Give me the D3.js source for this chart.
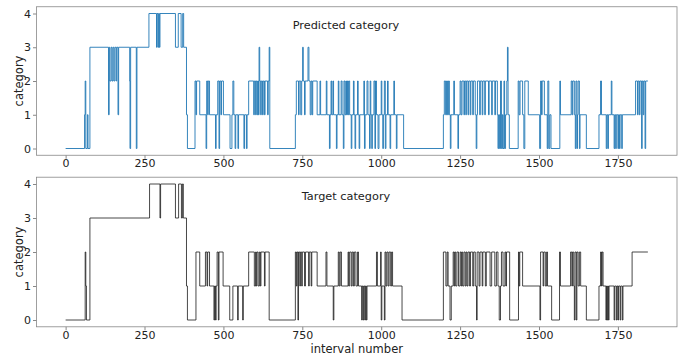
<!DOCTYPE html>
<html>
<head>
<meta charset="utf-8">
<script src="https://cdn.jsdelivr.net/npm/d3@7"></script>
<style>
  body { margin: 0; background: #fff; }
  svg { display: block; font-family: "DejaVu Sans", sans-serif; }
  .tick text { fill: #222; font-size: 11px; font-family: "DejaVu Sans", sans-serif; }
  .tick line { stroke: #888; }
  .domain { display: none; }
</style>
</head>
<body>
<div id="chart"></div>
<script>
// run-length step series: interval where a run starts, and its category
const predictedStart = [0,60,62,64,69,71,77,136,138,140,144,147,150,153,156,160,162,166,168,203,204,206,224,226,264,288,290,293,295,297,299,348,357,366,371,374,383,386,410,413,415,425,445,447,450,452,456,475,477,482,486,488,492,494,500,521,527,530,533,537,539,546,548,565,567,573,575,580,596,598,602,604,607,609,611,613,615,618,620,624,626,630,632,640,642,645,647,728,731,738,740,745,748,751,753,757,759,768,771,775,778,781,783,797,806,808,826,828,836,838,841,843,847,849,858,860,864,866,873,876,880,882,885,888,890,893,895,897,900,905,907,912,914,917,919,925,927,930,932,945,947,949,955,958,963,965,967,970,972,977,980,982,985,990,993,1000,1002,1005,1007,1010,1013,1015,1020,1022,1028,1030,1040,1042,1048,1050,1071,1197,1200,1204,1207,1210,1213,1216,1219,1221,1230,1232,1243,1245,1250,1253,1256,1262,1264,1268,1270,1275,1277,1282,1284,1290,1292,1298,1301,1303,1305,1312,1314,1320,1322,1328,1330,1340,1342,1350,1352,1360,1362,1368,1370,1372,1375,1378,1381,1384,1386,1389,1391,1394,1398,1400,1402,1406,1434,1437,1440,1448,1452,1455,1466,1502,1505,1508,1510,1517,1526,1528,1531,1534,1538,1566,1568,1602,1605,1607,1612,1615,1617,1620,1622,1624,1628,1630,1650,1690,1695,1698,1713,1715,1718,1720,1729,1731,1738,1740,1743,1745,1750,1752,1755,1757,1762,1764,1806,1812,1814,1818,1820,1825,1827,1830,1832,1836,1838];
const predictedCategory = [0,1,2,0,1,0,3,1,3,2,3,2,3,2,3,2,3,1,3,2,0,3,0,3,4,3,4,3,4,3,4,3,4,3,4,3,1,0,2,1,2,1,0,2,1,2,1,0,1,2,0,2,1,2,1,0,1,2,1,0,1,0,1,0,1,0,1,2,1,2,1,2,1,2,1,3,2,1,2,1,2,1,2,1,2,3,0,1,2,1,2,1,2,3,2,1,2,3,2,1,2,1,2,1,2,1,2,1,0,1,2,1,2,1,0,1,2,1,2,1,0,2,1,2,1,2,1,2,1,0,1,2,1,0,1,2,1,0,1,2,0,1,2,1,0,2,1,0,1,2,0,2,1,0,1,2,1,0,1,2,0,1,2,1,0,1,2,1,0,1,0,1,2,1,2,1,2,1,0,1,2,1,0,1,2,1,2,1,2,1,2,1,2,1,2,1,2,1,0,1,2,1,2,1,2,1,2,1,2,1,2,1,2,1,0,1,0,2,0,1,0,2,0,1,2,3,1,0,2,1,2,1,0,2,1,0,2,1,2,1,0,2,0,1,0,2,1,2,1,2,1,0,2,0,1,2,0,1,0,1,2,1,0,1,0,1,2,1,0,1,0,1,0,1,0,1,0,1,2,1,2,1,2,0,2,1,2,0,2];

const targetStart = [0,62,64,66,77,266,299,301,348,358,367,370,373,383,386,413,425,443,448,450,456,470,472,475,477,480,484,486,499,520,530,545,547,561,563,580,598,602,604,606,610,614,617,619,630,632,645,728,731,733,736,738,742,744,748,750,757,760,770,772,778,780,797,825,828,848,850,864,867,870,874,895,897,900,905,908,912,915,920,925,928,938,940,943,945,948,950,953,955,985,988,998,1000,1002,1010,1012,1015,1018,1022,1025,1030,1033,1036,1066,1197,1205,1209,1212,1218,1222,1228,1231,1233,1236,1240,1245,1250,1253,1255,1258,1262,1266,1269,1272,1275,1280,1283,1290,1293,1298,1302,1304,1310,1313,1320,1322,1330,1333,1345,1350,1360,1365,1370,1374,1378,1381,1386,1392,1395,1397,1407,1435,1437,1439,1448,1503,1505,1513,1515,1520,1524,1527,1540,1565,1568,1600,1604,1606,1610,1612,1614,1618,1620,1624,1628,1632,1650,1690,1695,1698,1700,1703,1712,1714,1716,1718,1720,1722,1738,1740,1745,1747,1750,1752,1757,1759,1764,1766,1795];
const targetCategory = [0,2,1,0,3,4,3,4,3,4,3,4,3,1,0,2,1,2,1,2,1,0,1,0,1,2,0,2,1,0,1,0,1,0,1,2,1,2,1,2,1,2,1,2,1,2,0,2,1,2,0,2,1,2,1,2,1,2,1,2,1,2,1,2,1,0,1,2,1,2,1,2,1,2,1,2,1,2,1,2,1,0,1,0,1,0,1,0,1,2,1,2,0,1,0,2,1,2,1,2,1,2,1,0,2,1,2,1,0,1,2,1,2,1,2,1,2,1,2,1,2,1,2,1,2,1,2,1,2,1,0,2,1,2,1,2,1,2,1,2,1,2,1,0,1,2,1,2,1,2,0,2,1,2,1,0,2,1,2,1,2,1,0,2,1,2,1,2,1,0,2,0,2,1,2,1,0,1,2,1,2,1,0,1,0,1,0,1,0,1,0,1,0,1,0,1,0,1,2];

const lastInterval = 1845;
const xTicks = [0, 250, 500, 750, 1000, 1250, 1500, 1750];
const yTicks = [0, 1, 2, 3, 4];

const panels = [
  {title: 'Predicted category', starts: predictedStart, cats: predictedCategory, color: '#1f77b4', top: 6.75, bottom: 155.25, width: 0.9},
  {title: 'Target category', starts: targetStart, cats: targetCategory, color: '#1a1a1a', top: 177.2, bottom: 326.8, width: 0.8}
];

const W = 685, H = 356;
const left = 36.5, right = 677;

const svg = d3.select('#chart').append('svg')
  .attr('width', W)
  .attr('height', H);

const pad = lastInterval * 0.05;
const x = d3.scaleLinear()
  .domain([-pad, lastInterval + pad])
  .range([left, right]);

panels.forEach(p => {
  const y = d3.scaleLinear()
    .domain([-0.2, 4.2])
    .range([p.bottom, p.top]);

  const g = svg.append('g');

  g.append('g')
    .attr('transform', `translate(0,${p.bottom})`)
    .call(d3.axisBottom(x).tickValues(xTicks).tickFormat(d3.format('d')).tickSize(3.5).tickPadding(0.8));

  g.append('g')
    .attr('transform', `translate(${left},0)`)
    .call(d3.axisLeft(y).tickValues(yTicks).tickFormat(d3.format('d')).tickSize(3.5).tickPadding(2));

  const pts = p.starts.map((s, i) => [s, p.cats[i]]);
  pts.push([lastInterval, p.cats[p.cats.length - 1]]);

  const line = d3.line()
    .x(d => x(d[0]))
    .y(d => y(d[1]))
    .curve(d3.curveStepAfter);

  g.append('path')
    .datum(pts)
    .attr('fill', 'none')
    .attr('stroke', p.color)
    .attr('stroke-width', p.width)
    .attr('d', line);

  g.append('rect')
    .attr('x', left)
    .attr('y', p.top)
    .attr('width', right - left)
    .attr('height', p.bottom - p.top)
    .attr('fill', 'none')
    .attr('stroke', '#888')
    .attr('stroke-width', 0.8);

  g.append('text')
    .attr('x', 346)
    .attr('y', p.top + 22.3)
    .attr('text-anchor', 'middle')
    .attr('font-size', 11.3)
    .attr('fill', '#222')
    .text(p.title);

  g.append('text')
    .attr('transform', `translate(22.5,${(p.top + p.bottom) / 2}) rotate(-90)`)
    .attr('text-anchor', 'middle')
    .attr('font-size', 11.5)
    .attr('fill', '#222')
    .text('category');
});

svg.append('text')
  .attr('x', (left + right) / 2)
  .attr('y', 352.5)
  .attr('text-anchor', 'middle')
  .attr('font-size', 11.5)
  .attr('fill', '#222')
  .text('interval number');
</script>
</body>
</html>
